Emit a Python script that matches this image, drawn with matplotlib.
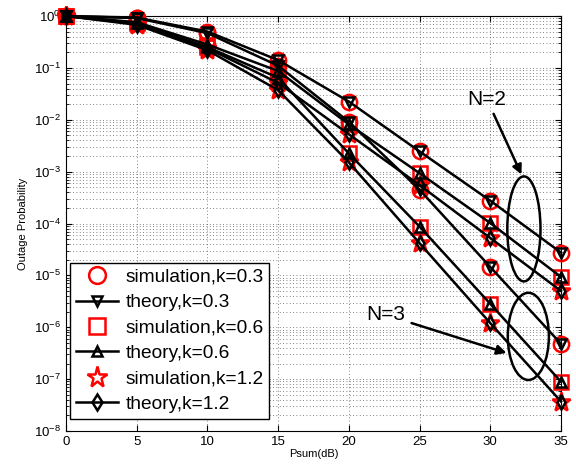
import matplotlib
matplotlib.use("Agg")
import matplotlib.pyplot as plt
from matplotlib.patches import Ellipse
from matplotlib.ticker import LogLocator, NullFormatter

plt.rcParams['font.family'] = ['Liberation Sans', 'DejaVu Sans']
plt.rcParams['mathtext.fontset'] = 'custom'
plt.rcParams['mathtext.rm'] = 'Liberation Sans'
plt.rcParams['mathtext.it'] = 'Liberation Sans'

psum = [0, 5, 10, 15, 20, 25, 30, 35]

# N=2
k03_n2 = [1.0, 0.933, 0.501, 0.141, 2.24e-2, 2.45e-3, 2.75e-4, 2.75e-5]
k06_n2 = [1.0, 0.759, 0.282, 0.0871, 8.13e-3, 9.33e-4, 1.02e-4, 9.33e-6]
k12_n2 = [1.0, 0.708, 0.240, 0.0513, 5.25e-3, 5.5e-4, 5.25e-5, 5.0e-6]
# N=3
k03_n3 = [1.0, 0.912, 0.468, 0.110, 9.12e-3, 4.47e-4, 1.45e-5, 4.79e-7]
k06_n3 = [1.0, 0.724, 0.251, 0.0646, 2.24e-3, 8.7e-5, 2.82e-6, 8.9e-8]
k12_n3 = [1.0, 0.676, 0.219, 0.0372, 1.51e-3, 4.17e-5, 1.2e-6, 3.7e-8]

k_labels = ["0.3", "0.6", "1.2"]
sim_markers = ["o", "s", "*"]
sim_sizes = [11, 10, 14]
th_markers = ["v", "^", "d"]

series_n2 = [k03_n2, k06_n2, k12_n2]
series_n3 = [k03_n3, k06_n3, k12_n3]

fig = plt.figure(figsize=(5.76, 4.67), dpi=100)
ax = fig.add_axes([0.1146, 0.0771, 0.8594, 0.8886])

handles = []
for i in range(3):
    for j, data in enumerate([series_n2[i], series_n3[i]]):
        hs, = ax.semilogy(psum, data, linestyle="none", marker=sim_markers[i],
                          markersize=sim_sizes[i], markerfacecolor="none",
                          markeredgecolor="red", markeredgewidth=1.8,
                          clip_on=False, zorder=3,
                          label="simulation,k=" + k_labels[i])
        ht, = ax.semilogy(psum, data, color="k", linewidth=1.8, marker=th_markers[i],
                          markersize=7, markerfacecolor="none",
                          markeredgecolor="k", markeredgewidth=1.8,
                          clip_on=False, zorder=4,
                          label="theory,k=" + k_labels[i])
        if j == 0:
            handles += [hs, ht]

ax.set_xlim(0, 35)
ax.set_ylim(1e-8, 1)
ax.set_xticks(psum)
ax.set_yticks([10.0 ** e for e in range(-8, 1)])
ax.set_yticklabels(["$10^{%d}$" % e for e in range(-8, 1)])
ax.yaxis.set_minor_locator(LogLocator(base=10, subs=range(2, 10), numticks=20))
ax.yaxis.set_minor_formatter(NullFormatter())
ax.tick_params(which="both", direction="in", top=True, right=True, labelsize=9.5)
ax.tick_params(which="major", length=4)
ax.tick_params(which="minor", length=2)

grid_kw = dict(linestyle=(0, (1, 3)), color="0.35", linewidth=0.6)
ax.grid(True, which="major", axis="both", **grid_kw)
ax.grid(True, which="minor", axis="y", **grid_kw)
ax.set_axisbelow(True)

ax.set_xlabel("Psum(dB)", fontsize=8, labelpad=1)
ax.set_ylabel("Outage Probability", fontsize=8, labelpad=4)

leg = ax.legend(handles=handles, loc="lower left", bbox_to_anchor=(0.0, 0.02),
                fontsize=13.8, frameon=True, fancybox=False, edgecolor="k",
                framealpha=1, handlelength=2.2, handletextpad=0.4,
                labelspacing=0.42, borderpad=0.3, borderaxespad=0.2,
                markerscale=1.1)
leg.get_frame().set_linewidth(1.0)
leg.set_zorder(10)

# N=2 / N=3 annotations
ax.add_patch(Ellipse((0.925, 0.487), 0.067, 0.253, transform=ax.transAxes,
                     fill=False, edgecolor="k", linewidth=1.8, zorder=5))
ax.add_patch(Ellipse((0.934, 0.228), 0.083, 0.210, transform=ax.transAxes,
                     fill=False, edgecolor="k", linewidth=1.8, zorder=5))
ax.annotate("N=2", xy=(0.920, 0.618), xytext=(0.850, 0.8),
            xycoords="axes fraction", textcoords="axes fraction",
            fontsize=15, ha="center", va="center",
            arrowprops=dict(arrowstyle="-|>", color="k", lw=1.8,
                            mutation_scale=14, shrinkA=2, shrinkB=0))
ax.annotate("N=3", xy=(0.890, 0.188), xytext=(0.645, 0.280),
            xycoords="axes fraction", textcoords="axes fraction",
            fontsize=15, ha="center", va="center",
            arrowprops=dict(arrowstyle="-|>", color="k", lw=1.8,
                            mutation_scale=14, shrinkA=3, shrinkB=0))

fig.savefig("out.png", dpi=100)
